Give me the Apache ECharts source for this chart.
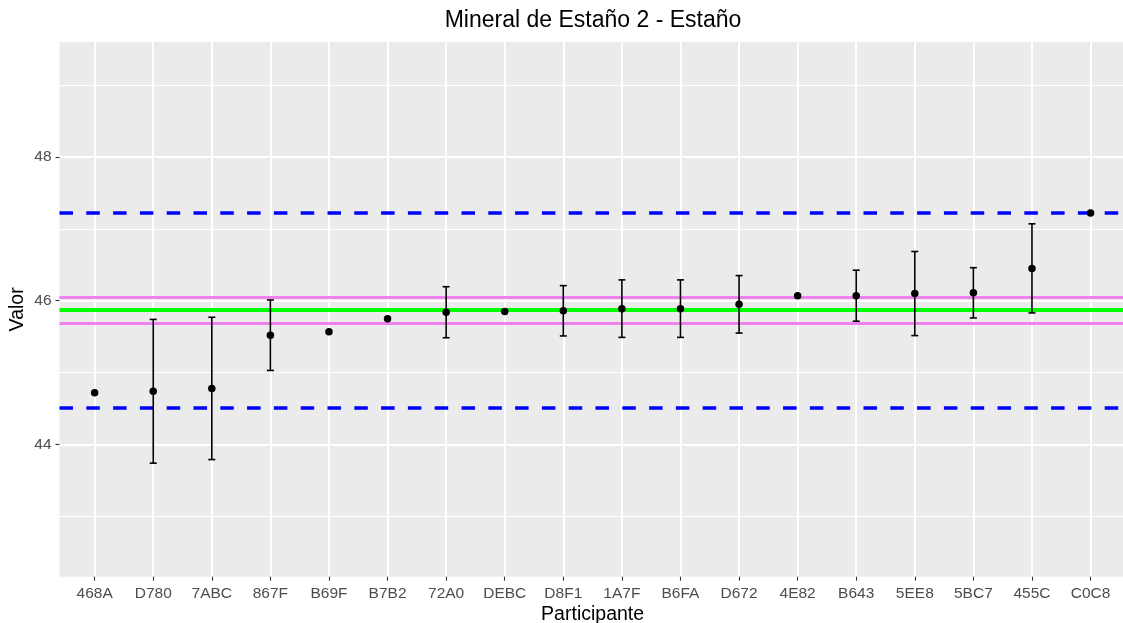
<!DOCTYPE html>
<html>
<head>
<meta charset="utf-8">
<title>Mineral de Estaño 2 - Estaño</title>
<script src="https://cdn.jsdelivr.net/npm/echarts@6.0.0/dist/echarts.min.js"></script>
<style>
  html, body { margin: 0; padding: 0; background: #fff; }
  #chart { width: 1123px; height: 623px; }
</style>
</head>
<body>
<div id="chart"></div>
<script>
// participantes, en el orden del eje x
const participantes = ['468A', 'D780', '7ABC', '867F', 'B69F', 'B7B2', '72A0', 'DEBC', 'D8F1',
  '1A7F', 'B6FA', 'D672', '4E82', 'B643', '5EE8', '5BC7', '455C', 'C0C8'];

// valor informado por cada participante
const valores = [44.72, 44.74, 44.78, 45.52, 45.57, 45.75, 45.84, 45.85, 45.86,
  45.89, 45.89, 45.95, 46.07, 46.07, 46.10, 46.11, 46.45, 47.22];

// incertidumbre (semi-ancho de la barra); null = sin barra
const incertidumbres = [null, 1.00, 0.99, 0.49, null, null, 0.355, null, 0.35,
  0.40, 0.40, 0.40, null, 0.355, 0.585, 0.35, 0.62, null];

// lineas de referencia
const valorAsignado = 45.87;
const bandaIncertidumbre = [45.69, 46.05];
const limites = [44.51, 47.23];

// ticks
const yTicks = [44, 46, 48];
const yMinorTicks = [43, 45, 47, 49];

const COLORS = {
  panel: '#EBEBEB',
  grid: '#FFFFFF',
  tickText: '#4D4D4D',
  tick: '#333333',
  blue: '#0000FF',
  green: '#00FF00',
  violet: '#EE82EE',
  point: '#000000',
};

const FONT = '"Liberation Sans", Arial, sans-serif';
const Y_MIN = 42.16;
const Y_MAX = 49.60;

const puntos = valores.map((v, i) => [i, v]);
const barras = [];
incertidumbres.forEach((u, i) => {
  if (u != null) barras.push([i, valores[i] - u, valores[i] + u]);
});
const xIdx = participantes.map((_, i) => i);

function renderErrorBar(params, api) {
  const x = api.value(0);
  const lo = api.coord([x, api.value(1)]);
  const hi = api.coord([x, api.value(2)]);
  const half = 3.5;
  const style = { stroke: COLORS.point, lineWidth: 1.6 };
  return {
    type: 'group',
    children: [
      { type: 'line', shape: { x1: hi[0], y1: hi[1], x2: lo[0], y2: lo[1] }, style },
      { type: 'line', shape: { x1: hi[0] - half, y1: hi[1], x2: hi[0] + half, y2: hi[1] }, style },
      { type: 'line', shape: { x1: lo[0] - half, y1: lo[1], x2: lo[0] + half, y2: lo[1] }, style },
    ],
  };
}

function hLine(value, color, width, type) {
  return {
    yAxis: value,
    lineStyle: { color, width, type: type || 'solid', opacity: 1 },
  };
}

const chart = echarts.init(document.getElementById('chart'), null, { renderer: 'canvas' });

chart.setOption({
  backgroundColor: '#FFFFFF',
  animation: false,
  title: {
    text: 'Mineral de Estaño 2 - Estaño',
    left: 593,
    top: 9,
    padding: 0,
    textAlign: 'center',
    textStyle: { fontFamily: FONT, fontSize: 23, fontWeight: 'normal', color: '#000' },
  },
  grid: {
    left: 59.5,
    right: -2.7,
    top: 42,
    bottom: 46.3,
    outerBoundsMode: 'none',
    containLabel: false,
    show: true,
    backgroundColor: COLORS.panel,
    borderWidth: 0,
  },
  xAxis: {
    type: 'value',
    min: -0.6,
    max: 17.6,
    name: 'Participante',
    nameLocation: 'middle',
    nameGap: 28,
    nameMoveOverlap: false,
    nameTextStyle: { fontFamily: FONT, fontSize: 19.5, color: '#000' },
    axisLine: { show: false, onZero: false },
    axisTick: {
      show: true,
      customValues: xIdx,
      length: 4,
      lineStyle: { color: COLORS.tick, width: 1.1 },
    },
    axisLabel: {
      customValues: xIdx,
      formatter: (v) => participantes[Math.round(v)] ?? '',
      margin: 9,
      fontFamily: FONT,
      fontSize: 15.5,
      color: COLORS.tickText,
    },
    splitLine: { show: true, lineStyle: { color: COLORS.grid, width: 2 } },
  },
  yAxis: [
    {
      type: 'value',
      min: Y_MIN,
      max: Y_MAX,
      name: 'Valor',
      nameLocation: 'middle',
      nameGap: 32,
      nameMoveOverlap: false,
      nameTextStyle: { fontFamily: FONT, fontSize: 19.5, color: '#000' },
      axisLine: { show: false, onZero: false },
      axisTick: {
        show: true,
        customValues: yTicks,
        length: 4,
        lineStyle: { color: COLORS.tick, width: 1.1 },
      },
      axisLabel: {
        customValues: yTicks,
        margin: 8,
        fontFamily: FONT,
        fontSize: 15.5,
        color: COLORS.tickText,
      },
      splitLine: { show: true, lineStyle: { color: COLORS.grid, width: 2 } },
    },
    {
      type: 'value',
      min: Y_MIN,
      max: Y_MAX,
      position: 'left',
      axisLine: { show: false, onZero: false },
      axisTick: { show: false, customValues: yMinorTicks },
      axisLabel: { show: false, customValues: yMinorTicks },
      splitLine: { show: true, lineStyle: { color: COLORS.grid, width: 1.1 } },
    },
  ],
  series: [
    {
      name: 'referencias',
      type: 'line',
      data: [],
      silent: true,
      z: 2,
      markLine: {
        silent: true,
        z: 2,
        symbol: ['none', 'none'],
        label: { show: false },
        emphasis: { disabled: true },
        data: [
          hLine(limites[0], COLORS.blue, 3.5, [13.5, 13.3]),
          hLine(limites[1], COLORS.blue, 3.5, [13.5, 13.3]),
          hLine(bandaIncertidumbre[0], COLORS.violet, 3),
          hLine(bandaIncertidumbre[1], COLORS.violet, 3),
          hLine(valorAsignado, COLORS.green, 4),
        ],
      },
    },
    {
      name: 'incertidumbre',
      type: 'custom',
      data: barras,
      renderItem: renderErrorBar,
      silent: true,
      z: 6,
    },
    {
      name: 'valor',
      type: 'scatter',
      data: puntos,
      symbol: 'circle',
      symbolSize: 7.5,
      itemStyle: { color: COLORS.point, opacity: 1 },
      silent: true,
      z: 7,
    },
  ],
});
</script>
</body>
</html>
